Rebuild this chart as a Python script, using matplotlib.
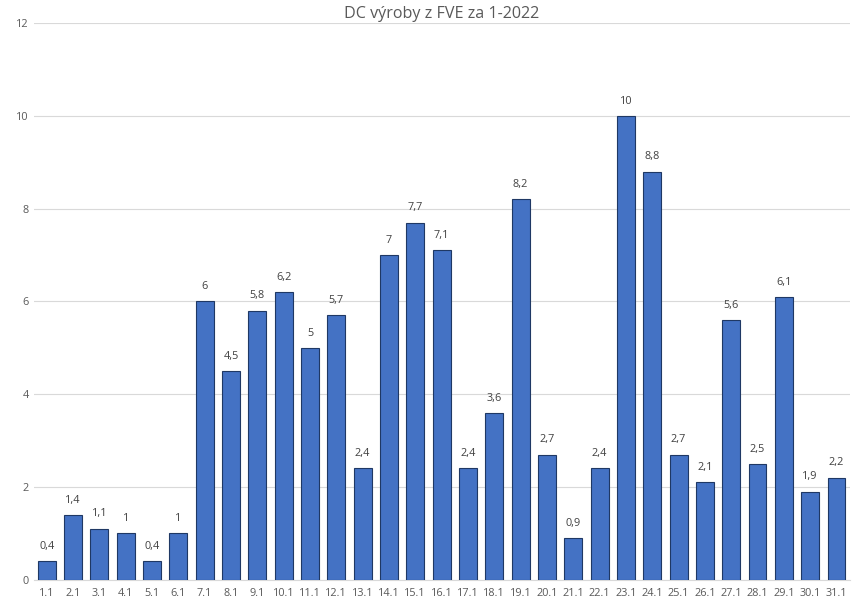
import numpy as np
from matplotlib import pyplot as plt

days = ['%d.1' % d for d in range(1, 32)]
values = [0.4, 1.4, 1.1, 1, 0.4, 1, 6, 4.5, 5.8, 6.2, 5, 5.7, 2.4, 7, 7.7, 7.1,
          2.4, 3.6, 8.2, 2.7, 0.9, 2.4, 10, 8.8, 2.7, 2.1, 5.6, 2.5, 6.1, 1.9, 2.2]
y_ticks = [0, 2, 4, 6, 8, 10, 12]


def fmt(v):
    s = ('%g' % v)
    return s.replace('.', ',')


if __name__ == '__main__':
    plt.rcParams['font.family'] = ['Open Sans', 'DejaVu Sans']
    fig = plt.figure(figsize=(8.6, 6.09), dpi=100)
    ax = fig.add_axes([0.039, 0.048, 0.949, 0.914])

    x = np.arange(len(days))
    bars = ax.bar(x, values, width=0.68, color='#4472C4', edgecolor='#1F3864',
                  linewidth=0.8, zorder=3)
    for b, v in zip(bars, values):
        ax.text(b.get_x() + b.get_width() / 2, v + 0.2, fmt(v), ha='center',
                va='bottom', fontsize=7.8, color='#404040')

    ax.set_xlim(-0.5, len(days) - 0.5)
    ax.set_ylim(0, 12)
    ax.set_yticks(y_ticks)
    ax.set_xticks(x)
    ax.set_xticklabels(days)
    ax.tick_params(length=0, labelsize=7.8, colors='#595959')
    ax.tick_params(axis='x', pad=6)
    ax.grid(axis='y', color='#D9D9D9', linewidth=0.8, zorder=0)
    for side in ['top', 'right', 'left']:
        ax.spines[side].set_visible(False)
    ax.spines['bottom'].set_color('#D9D9D9')

    ax.set_title('DC výroby z FVE za 1-2022', fontsize=11.6, color='#595959', pad=4)
    fig.savefig('out.png', dpi=100)
